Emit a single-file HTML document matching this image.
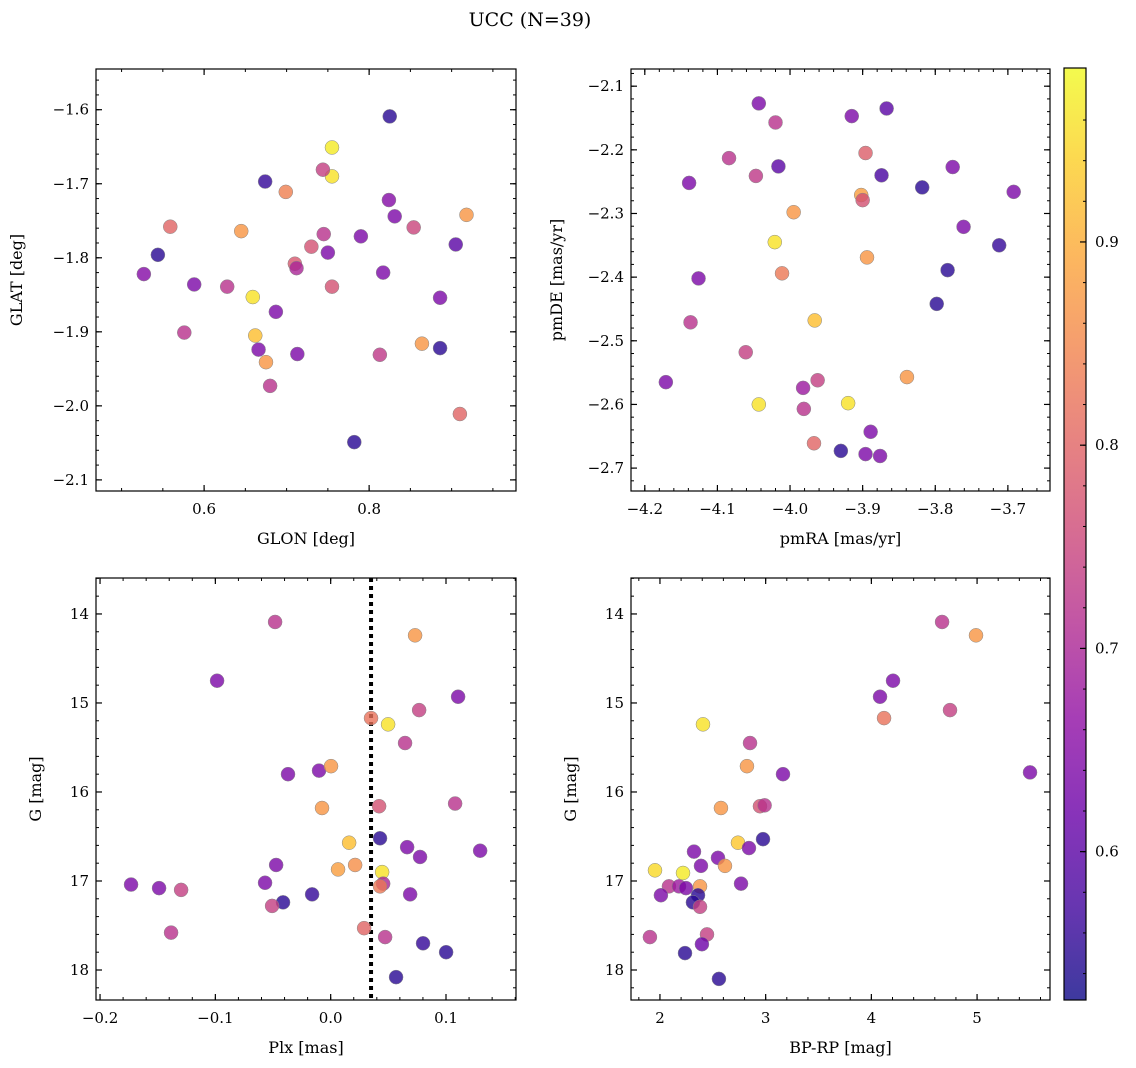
<!DOCTYPE html>
<html><head><meta charset="utf-8">
<style>
body{margin:0;background:#fff;}
svg{display:block;font-family:"DejaVu Serif","Liberation Serif",serif;}
</style></head>
<body>
<svg id="chart" width="1136" height="1068" viewBox="0 0 1136 1068" xmlns="http://www.w3.org/2000/svg">
<text x="530" y="26" font-size="19" text-anchor="middle">UCC (N=39)</text>
</svg>
<script>
// ---- data ----
const glon=[0.825,0.755,0.755,0.674,0.699,0.744,0.824,0.559,0.645,0.918,0.831,0.854,0.745,0.730,0.790,0.905,0.544,0.750,0.710,0.712,0.527,0.817,0.755,0.588,0.628,0.659,0.886,0.687,0.576,0.662,0.666,0.713,0.813,0.864,0.886,0.675,0.680,0.910,0.782];
const glat=[-1.609,-1.651,-1.690,-1.697,-1.711,-1.681,-1.722,-1.758,-1.764,-1.742,-1.744,-1.759,-1.768,-1.785,-1.771,-1.782,-1.796,-1.793,-1.808,-1.814,-1.822,-1.820,-1.839,-1.836,-1.839,-1.853,-1.854,-1.873,-1.901,-1.905,-1.924,-1.930,-1.931,-1.916,-1.922,-1.941,-1.973,-2.011,-2.049];
const prob1=[0.55,0.97,0.96,0.56,0.84,0.74,0.65,0.80,0.87,0.87,0.64,0.75,0.72,0.77,0.64,0.60,0.55,0.64,0.78,0.70,0.65,0.64,0.77,0.64,0.72,0.96,0.64,0.64,0.72,0.92,0.64,0.64,0.73,0.87,0.55,0.87,0.72,0.80,0.55];

const pmra=[-4.043,-3.867,-3.915,-4.020,-3.896,-4.084,-4.016,-3.776,-4.047,-3.874,-4.139,-3.818,-3.692,-3.902,-3.900,-3.995,-3.761,-4.021,-3.712,-4.011,-3.783,-4.126,-3.894,-3.798,-3.966,-4.137,-4.061,-3.839,-3.962,-4.171,-3.982,-4.043,-3.920,-3.981,-3.889,-3.967,-3.930,-3.896,-3.876];
const pmde=[-2.127,-2.135,-2.147,-2.157,-2.205,-2.213,-2.226,-2.227,-2.241,-2.240,-2.252,-2.259,-2.266,-2.271,-2.279,-2.298,-2.321,-2.345,-2.350,-2.394,-2.389,-2.402,-2.369,-2.442,-2.468,-2.471,-2.518,-2.557,-2.562,-2.565,-2.574,-2.600,-2.598,-2.607,-2.643,-2.661,-2.673,-2.678,-2.681];
const prob2=[0.64,0.60,0.64,0.72,0.79,0.72,0.60,0.64,0.73,0.58,0.64,0.55,0.64,0.88,0.77,0.87,0.64,0.96,0.56,0.83,0.55,0.64,0.87,0.55,0.92,0.72,0.74,0.87,0.74,0.64,0.68,0.96,0.96,0.72,0.64,0.80,0.55,0.64,0.64];

const plx=[-0.0482,0.0732,-0.0985,0.1105,0.0767,0.0350,0.0498,0.0645,-0.0370,-0.0101,0.0003,-0.0075,0.0420,0.1079,0.0428,0.0160,0.0663,0.1296,0.0775,-0.0473,0.0212,0.0064,0.0446,-0.0569,-0.1731,0.0455,0.0428,-0.1488,-0.1297,0.0689,-0.0161,-0.0413,-0.0508,0.0290,-0.1384,0.0472,0.0801,0.1001,0.0567];
const gmag3=[14.09,14.24,14.75,14.93,15.08,15.17,15.24,15.45,15.80,15.76,15.71,16.18,16.16,16.13,16.52,16.57,16.62,16.66,16.73,16.82,16.82,16.87,16.90,17.02,17.04,17.03,17.06,17.08,17.10,17.15,17.15,17.24,17.28,17.53,17.58,17.63,17.70,17.80,18.08];
const prob3=[0.72,0.87,0.64,0.64,0.74,0.82,0.96,0.72,0.64,0.64,0.87,0.87,0.77,0.72,0.55,0.92,0.64,0.64,0.64,0.64,0.86,0.88,0.96,0.64,0.64,0.70,0.83,0.64,0.74,0.64,0.56,0.55,0.74,0.80,0.72,0.72,0.56,0.55,0.55];
const plxRef=0.035;

const bprp=[4.669,4.990,4.205,4.082,4.744,4.120,2.407,2.852,3.164,5.501,2.823,2.577,2.946,2.990,2.738,2.975,2.842,2.322,2.549,2.615,2.388,1.953,2.218,2.767,2.085,2.180,2.246,2.379,2.009,2.360,2.312,2.379,2.445,1.905,2.397,2.237,2.558];
const gmag4=[14.09,14.24,14.75,14.93,15.08,15.17,15.24,15.45,15.80,15.78,15.71,16.18,16.16,16.15,16.57,16.53,16.63,16.67,16.74,16.83,16.83,16.88,16.91,17.03,17.06,17.06,17.08,17.06,17.16,17.16,17.24,17.29,17.60,17.63,17.71,17.81,18.10];
const prob4=[0.72,0.87,0.64,0.64,0.74,0.82,0.96,0.72,0.64,0.64,0.87,0.87,0.77,0.72,0.93,0.55,0.64,0.64,0.64,0.87,0.64,0.95,0.97,0.64,0.72,0.68,0.64,0.87,0.64,0.55,0.55,0.74,0.74,0.72,0.62,0.55,0.55];

const cbTicks=[0.6,0.7,0.8,0.9];
const cMin=0.527, cMax=0.9856;

// ---- helpers ----
const NS="http://www.w3.org/2000/svg";
const svg=document.getElementById('chart');
function mk(tag,attrs,parent){const e=document.createElementNS(NS,tag);for(const k in attrs)e.setAttribute(k,attrs[k]);(parent||svg).appendChild(e);return e;}
const stops=["#0d0887","#41049d","#6a00a8","#8f0da4","#b12a90","#cc4778","#e16462","#f2844b","#fca636","#fcce25","#f0f921"];
function hex(h){return [parseInt(h.substr(1,2),16),parseInt(h.substr(3,2),16),parseInt(h.substr(5,2),16)];}
function plasma(t){t=Math.max(0,Math.min(1,t));const f=t*10,i=Math.min(9,Math.floor(f)),r=f-i;const a=hex(stops[i]),b=hex(stops[i+1]);return `rgb(${a.map((v,k)=>Math.round(v+(b[k]-v)*r)).join(',')})`;}
function col(v){return plasma((v-cMin)/(cMax-cMin));}
function fmt(v,d){const s=v.toFixed(d);return s.replace('-','\u2212');}

function panel(o){
  const g=mk('g',{});
  
  
  const sx=v=>o.L+(v-o.x0)/(o.x1-o.x0)*(o.R-o.L);
  const sy=v=>o.T+(v-o.y0)/(o.y1-o.y0)*(o.B-o.T);
  const eps=1e-9;
  // minor ticks
  for(let v=Math.ceil(o.x0/o.xm-eps)*o.xm;v<=o.x1+eps;v+=o.xm){const x=sx(v);mk('line',{x1:x,x2:x,y1:o.B,y2:o.B-3,stroke:'#000','stroke-width':1},g);mk('line',{x1:x,x2:x,y1:o.T,y2:o.T+3,stroke:'#000','stroke-width':1},g);}
  const ylo=Math.min(o.y0,o.y1),yhi=Math.max(o.y0,o.y1);
  for(let v=Math.ceil(ylo/o.ym-eps)*o.ym;v<=yhi+eps;v+=o.ym){const y=sy(v);mk('line',{x1:o.L,x2:o.L+3,y1:y,y2:y,stroke:'#000','stroke-width':1},g);mk('line',{x1:o.R,x2:o.R-3,y1:y,y2:y,stroke:'#000','stroke-width':1},g);}
  o.xt.forEach(v=>{const x=sx(v);mk('line',{x1:x,x2:x,y1:o.B,y2:o.B-6,stroke:'#000','stroke-width':1.2},g);mk('line',{x1:x,x2:x,y1:o.T,y2:o.T+6,stroke:'#000','stroke-width':1.2},g);
    const t=mk('text',{x:x,y:o.B+23,'font-size':15,'text-anchor':'middle'},g);t.textContent=fmt(v,o.xd);
    
    });
  o.yt.forEach(v=>{const y=sy(v);mk('line',{x1:o.L,x2:o.L+6,y1:y,y2:y,stroke:'#000','stroke-width':1.2},g);mk('line',{x1:o.R,x2:o.R-6,y1:y,y2:y,stroke:'#000','stroke-width':1.2},g);
    const t=mk('text',{x:o.L-7,y:y+5,'font-size':15,'text-anchor':'end'},g);t.textContent=fmt(v,o.yd);
    
    });
  if(o.vline!==undefined){const l=mk('line',{x1:sx(o.vline),x2:sx(o.vline),y1:o.T,y2:o.B,stroke:'#000','stroke-width':4,'stroke-dasharray':'4 4'},g);
    
    }
  o.xs.forEach((v,i)=>{const c=mk('circle',{cx:sx(v),cy:sy(o.ys[i]),r:7,fill:col(o.cs[i]),'fill-opacity':0.8,stroke:'#888','stroke-width':0.5},g);
    
    });
  const fr=mk('rect',{x:o.L,y:o.T,width:o.R-o.L,height:o.B-o.T,fill:'none',stroke:'#000','stroke-width':1.2},g);
  
  
  const xl=mk('text',{x:(o.L+o.R)/2,y:o.B+53,'font-size':16,'text-anchor':'middle'},g);xl.textContent=o.xl;
  
  
  const yx=o.L-o.yoff, yy=(o.T+o.B)/2;
  const yl=mk('text',{x:yx,y:yy,'font-size':16,'text-anchor':'middle',transform:`rotate(-90 ${yx} ${yy})`},g);yl.textContent=o.yl;
  
  
}
panel({name:'glon-glat-panel',L:96,R:516,T:69,B:491,x0:0.469,x1:0.978,y0:-1.545,y1:-2.115,xt:[0.6,0.8],xm:0.05,xd:1,yt:[-1.6,-1.7,-1.8,-1.9,-2.0,-2.1],ym:0.02,yd:1,xs:glon,ys:glat,cs:prob1,xl:'GLON [deg]',yl:'GLAT [deg]',yoff:74});
panel({name:'proper-motion-panel',L:631,R:1050,T:69,B:491,x0:-4.219,x1:-3.642,y0:-2.073,y1:-2.736,xt:[-4.2,-4.1,-4.0,-3.9,-3.8,-3.7],xm:0.02,xd:1,yt:[-2.1,-2.2,-2.3,-2.4,-2.5,-2.6,-2.7],ym:0.02,yd:1,xs:pmra,ys:pmde,cs:prob2,xl:'pmRA [mas/yr]',yl:'pmDE [mas/yr]',yoff:69});
panel({name:'parallax-magnitude-panel',L:96,R:516,T:578,B:1000,x0:-0.2035,x1:0.1607,y0:13.596,y1:18.337,xt:[-0.2,-0.1,0.0,0.1],xm:0.02,xd:1,yt:[14,15,16,17,18],ym:0.2,yd:0,xs:plx,ys:gmag3,cs:prob3,xl:'Plx [mas]',yl:'G [mag]',yoff:55,vline:plxRef});
panel({name:'color-magnitude-panel',L:631,R:1050,T:578,B:1000,x0:1.726,x1:5.69,y0:13.596,y1:18.337,xt:[2,3,4,5],xm:0.2,xd:0,yt:[14,15,16,17,18],ym:0.2,yd:0,xs:bprp,ys:gmag4,cs:prob4,xl:'BP-RP [mag]',yl:'G [mag]',yoff:55});

// colorbar
const cb=mk('g',{});


const CT=68,CB=1000,CL=1064,CR=1086;
const defs=mk('defs',{},cb);const lg=mk('linearGradient',{id:'cbg',x1:0,y1:1,x2:0,y2:0},defs);
for(let i=0;i<=20;i++){mk('stop',{offset:i/20,'stop-color':plasma(i/20)},lg);}
mk('rect',{x:CL,y:CT,width:CR-CL,height:CB-CT,fill:'url(#cbg)','fill-opacity':0.8},cb);
const cy=v=>CB-(v-cMin)/(cMax-cMin)*(CB-CT);
for(let v=0.54;v<=0.98;v+=0.02){mk('line',{x1:CR,x2:CR-3,y1:cy(v),y2:cy(v),stroke:'#000','stroke-width':1},cb);}
cbTicks.forEach(v=>{mk('line',{x1:CR,x2:CR-6,y1:cy(v),y2:cy(v),stroke:'#000','stroke-width':1.2},cb);
  const t=mk('text',{x:CR+9,y:cy(v)+5,'font-size':15},cb);t.textContent=v.toFixed(1);
  
  });
mk('rect',{x:CL,y:CT,width:CR-CL,height:CB-CT,fill:'none',stroke:'#000','stroke-width':1.2},cb);
</script>
</body></html>
